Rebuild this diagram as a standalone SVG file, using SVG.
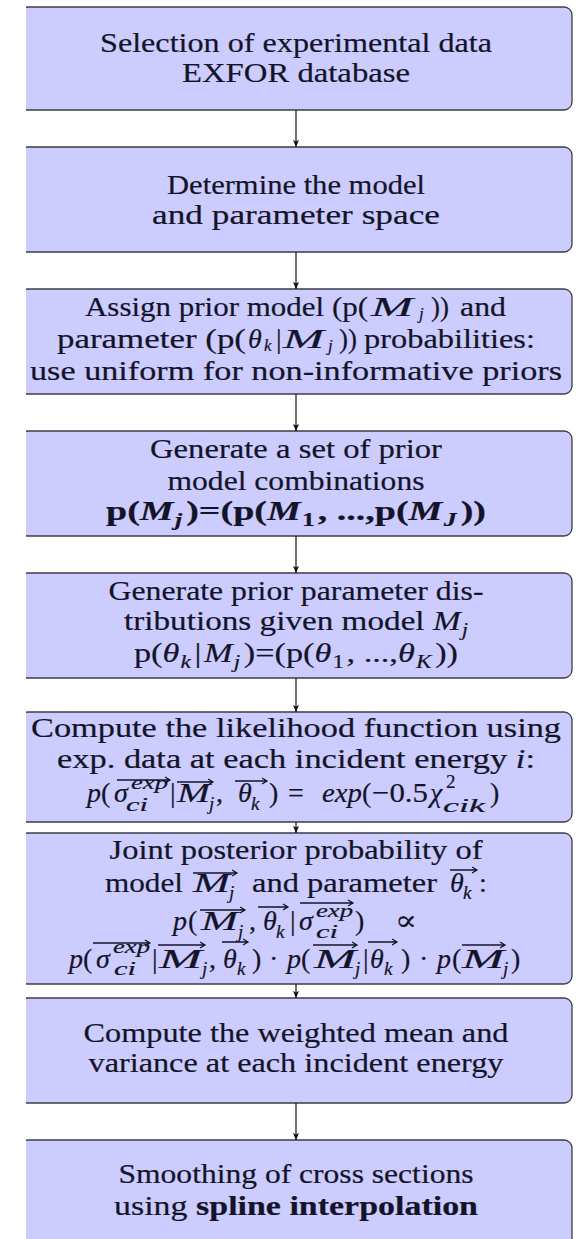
<svg xmlns="http://www.w3.org/2000/svg" width="582" height="1239" viewBox="0 0 582 1239">
<style>
.box{fill:#ccccff;stroke:#3c3c44;stroke-width:1.3}
.t{font-family:"Liberation Serif","DejaVu Serif",serif;font-size:28px;fill:#141428;stroke:#141428;stroke-width:0.2}
.i{font-style:italic}
.s{font-size:19px}
.ss{font-size:17px}
.b{font-weight:bold}
.c{text-anchor:middle}
.ov{fill:none;stroke:#141428;stroke-width:1.3}
.conn{stroke:#111;stroke-width:1.2;fill:none}
</style>
<defs>
<clipPath id="cl"><rect x="26" y="0" width="560" height="1239"/></clipPath>
<marker id="ah" markerUnits="userSpaceOnUse" markerWidth="8" markerHeight="8" refX="7" refY="4" orient="auto">
<path d="M0,1 L7,4 L0,7 L1.5,4 z" fill="#111"/>
</marker>
</defs>
<rect width="582" height="1239" fill="#ffffff"/>
<g clip-path="url(#cl)">
<g id="n1"><rect class="box" x="20" y="7" width="552" height="103" rx="8"/>
<text class="t c" x="296" y="52" textLength="392" lengthAdjust="spacingAndGlyphs">Selection of experimental data</text>
<text class="t c" x="296" y="82" textLength="228" lengthAdjust="spacingAndGlyphs">EXFOR database</text></g>

<g id="n2"><rect class="box" x="20" y="147" width="552" height="105" rx="8"/>
<text class="t c" x="296" y="194" textLength="258" lengthAdjust="spacingAndGlyphs">Determine the model</text>
<text class="t c" x="296" y="224" textLength="288" lengthAdjust="spacingAndGlyphs">and parameter space</text></g>

<g id="n3"><rect class="box" x="20" y="289" width="552" height="105" rx="8"/>
<text class="t" x="85" y="316" textLength="283" lengthAdjust="spacingAndGlyphs">Assign prior model (p(</text>
<text class="t i" x="371" y="316" textLength="42" lengthAdjust="spacingAndGlyphs">M</text>
<text class="t ss i" x="419" y="319">j</text>
<text class="t" x="431" y="316" textLength="18" lengthAdjust="spacingAndGlyphs">))</text>
<text class="t" x="460" y="316" textLength="46" lengthAdjust="spacingAndGlyphs">and</text>
<text class="t" x="57" y="348" textLength="189" lengthAdjust="spacingAndGlyphs">parameter (p(</text>
<text class="t i" x="248" y="348">θ</text>
<text class="t ss i" x="264" y="351">k</text>
<text class="t" x="276" y="348">|</text>
<text class="t i" x="283" y="348" textLength="41" lengthAdjust="spacingAndGlyphs">M</text>
<text class="t ss i" x="328" y="351">j</text>
<text class="t" x="339" y="348" textLength="18" lengthAdjust="spacingAndGlyphs">))</text>
<text class="t" x="364" y="348" textLength="171" lengthAdjust="spacingAndGlyphs">probabilities:</text>
<text class="t c" x="296" y="380" textLength="532" lengthAdjust="spacingAndGlyphs">use uniform for non-informative priors</text></g>

<g id="n4"><rect class="box" x="20" y="431" width="552" height="105" rx="8"/>
<text class="t c" x="296" y="458" textLength="292" lengthAdjust="spacingAndGlyphs">Generate a set of prior</text>
<text class="t c" x="296" y="490" textLength="257" lengthAdjust="spacingAndGlyphs">model combinations</text>
<text class="t c b" x="296" y="520" textLength="380" lengthAdjust="spacingAndGlyphs">p(<tspan class="i">M</tspan><tspan class="s i" dx="1" dy="6">j</tspan><tspan dx="3" dy="-6">)=(p(</tspan><tspan class="i">M</tspan><tspan class="s" dx="1" dy="6">1</tspan><tspan dx="2" dy="-6">, ...,p(</tspan><tspan class="i">M</tspan><tspan class="s i" dx="1" dy="6">J</tspan><tspan dx="3" dy="-6">))</tspan></text></g>

<g id="n5"><rect class="box" x="20" y="573" width="552" height="105" rx="8"/>
<text class="t c" x="296" y="600" textLength="375" lengthAdjust="spacingAndGlyphs">Generate prior parameter dis-</text>
<text class="t c" x="296" y="630" textLength="344" lengthAdjust="spacingAndGlyphs">tributions given model <tspan class="i">M</tspan><tspan class="s i" dx="1" dy="6">j</tspan></text>
<text class="t c" x="296" y="662" textLength="324" lengthAdjust="spacingAndGlyphs">p(<tspan class="i">θ</tspan><tspan class="s i" dx="1" dy="6">k</tspan><tspan dx="3" dy="-6">|</tspan><tspan class="i" dx="2">M</tspan><tspan class="s i" dx="1" dy="6">j</tspan><tspan dx="3" dy="-6">)=(p(</tspan><tspan class="i">θ</tspan><tspan class="s" dx="1" dy="6">1</tspan><tspan dx="2" dy="-6">, ...,</tspan><tspan class="i">θ</tspan><tspan class="s i" dx="1" dy="6">K</tspan><tspan dx="3" dy="-6">))</tspan></text></g>

<g id="n6"><rect class="box" x="20" y="712" width="552" height="110" rx="8"/>
<text class="t c" x="296" y="737" textLength="530" lengthAdjust="spacingAndGlyphs">Compute the likelihood function using</text>
<text class="t c" x="296" y="768" textLength="478" lengthAdjust="spacingAndGlyphs">exp. data at each incident energy <tspan class="i">i</tspan>:</text>
<text class="t i" x="87" y="802">p</text>
<text class="t" x="101" y="802">(</text>
<text class="t i" x="114" y="802">σ</text>
<text class="t s i" x="131" y="789" textLength="37" lengthAdjust="spacingAndGlyphs">exp</text>
<text class="t s i" x="126" y="811" textLength="22" lengthAdjust="spacingAndGlyphs">ci</text>
<text class="t" x="170" y="802">|</text>
<text class="t i" x="177" y="802" textLength="33" lengthAdjust="spacingAndGlyphs">M</text>
<text class="t s i" x="209" y="810">j</text>
<text class="t" x="216" y="802">,</text>
<text class="t i" x="238" y="802">θ</text>
<text class="t s i" x="251" y="810">k</text>
<text class="t" x="269" y="802">)</text>
<text class="t" x="288" y="802">=</text>
<text class="t i" x="322" y="802" textLength="40" lengthAdjust="spacingAndGlyphs">exp</text>
<text class="t" x="362" y="802">(</text>
<text class="t" x="372" y="802" textLength="56" lengthAdjust="spacingAndGlyphs">−0.5</text>
<text class="t i" x="430" y="802">χ</text>
<text class="t s" x="446" y="788">2</text>
<text class="t s i" x="443" y="812" textLength="42" lengthAdjust="spacingAndGlyphs">cik</text>
<text class="t" x="490" y="802">)</text>
<path class="ov" d="M117,780 H170 M165,777 L170,780 L165,783 M177,782 H213 M208,779 L213,782 L208,785 M235,781 H267 M262,778 L267,781 L262,784"/></g>

<g id="n7"><rect class="box" x="20" y="833" width="552" height="151" rx="8"/>
<text class="t c" x="296" y="859" textLength="373" lengthAdjust="spacingAndGlyphs">Joint posterior probability of</text>
<text class="t" x="105" y="892" textLength="78" lengthAdjust="spacingAndGlyphs">model</text>
<text class="t i" x="193" y="892" textLength="37" lengthAdjust="spacingAndGlyphs">M</text>
<text class="t s i" x="229" y="899">j</text>
<text class="t" x="252" y="892" textLength="185" lengthAdjust="spacingAndGlyphs">and parameter</text>
<text class="t i" x="450" y="892">θ</text>
<text class="t s i" x="463" y="899">k</text>
<text class="t" x="479" y="892">:</text>
<path class="ov" d="M193,873 H237 M232,870 L237,873 L232,876 M450,870 H477 M472,867 L477,870 L472,873"/>
<text class="t i" x="173" y="930">p</text>
<text class="t" x="188" y="930">(</text>
<text class="t i" x="201" y="930" textLength="37" lengthAdjust="spacingAndGlyphs">M</text>
<text class="t s i" x="238" y="938">j</text>
<text class="t" x="249" y="930">,</text>
<text class="t i" x="263" y="930">θ</text>
<text class="t s i" x="276" y="938">k</text>
<text class="t" x="290" y="930">|</text>
<text class="t i" x="299" y="930">σ</text>
<text class="t s i" x="316" y="917" textLength="37" lengthAdjust="spacingAndGlyphs">exp</text>
<text class="t s i" x="316" y="938" textLength="22" lengthAdjust="spacingAndGlyphs">ci</text>
<text class="t" x="355" y="930">)</text>
<text class="t" x="395" y="930" textLength="22" lengthAdjust="spacingAndGlyphs">∝</text>
<path class="ov" d="M200,910 H245 M240,907 L245,910 L240,913 M258,907 H288 M283,904 L288,907 L283,910 M300,903 H353 M348,900 L353,903 L348,906"/>
<text class="t i" x="69" y="968">p</text>
<text class="t" x="83" y="968">(</text>
<text class="t i" x="96" y="968">σ</text>
<text class="t s i" x="113" y="953" textLength="37" lengthAdjust="spacingAndGlyphs">exp</text>
<text class="t s i" x="114" y="975" textLength="22" lengthAdjust="spacingAndGlyphs">ci</text>
<text class="t" x="152" y="968">|</text>
<text class="t i" x="159" y="968" textLength="43" lengthAdjust="spacingAndGlyphs">M</text>
<text class="t s i" x="202" y="975">j</text>
<text class="t" x="209" y="968">,</text>
<text class="t i" x="223" y="968">θ</text>
<text class="t s i" x="237" y="975">k</text>
<text class="t" x="252" y="968">)</text>
<text class="t" x="269" y="968">·</text>
<text class="t i" x="287" y="968">p</text>
<text class="t" x="301" y="968">(</text>
<text class="t i" x="314" y="968" textLength="42" lengthAdjust="spacingAndGlyphs">M</text>
<text class="t s i" x="355" y="975">j</text>
<text class="t" x="363" y="968">|</text>
<text class="t i" x="370" y="968">θ</text>
<text class="t s i" x="384" y="975">k</text>
<text class="t" x="401" y="968">)</text>
<text class="t" x="419" y="968">·</text>
<text class="t i" x="437" y="968">p</text>
<text class="t" x="452" y="968">(</text>
<text class="t i" x="462" y="968" textLength="42" lengthAdjust="spacingAndGlyphs">M</text>
<text class="t s i" x="503" y="975">j</text>
<text class="t" x="511" y="968">)</text>
<path class="ov" d="M93,943 H150 M145,940 L150,943 L145,946 M158,945 H205 M200,942 L205,945 L200,948 M222,942 H248 M243,939 L248,942 L243,945 M313,945 H357 M352,942 L357,945 L352,948 M368,942 H397 M392,939 L397,942 L392,945 M462,945 H505 M500,942 L505,945 L500,948"/></g>

<g id="n8"><rect class="box" x="20" y="998" width="552" height="105" rx="8"/>
<text class="t c" x="296" y="1042" textLength="425" lengthAdjust="spacingAndGlyphs">Compute the weighted mean and</text>
<text class="t c" x="296" y="1072" textLength="415" lengthAdjust="spacingAndGlyphs">variance at each incident energy</text></g>

<g id="n9"><rect class="box" x="20" y="1140" width="552" height="115" rx="8"/>
<text class="t c" x="296" y="1183" textLength="355" lengthAdjust="spacingAndGlyphs">Smoothing of cross sections</text>
<text class="t c" x="296" y="1215" textLength="364" lengthAdjust="spacingAndGlyphs">using <tspan class="b">spline interpolation</tspan></text></g>
</g>

<g id="connectors">
<line class="conn" x1="296" y1="110" x2="296" y2="147" marker-end="url(#ah)"/>
<line class="conn" x1="296" y1="252" x2="296" y2="289" marker-end="url(#ah)"/>
<line class="conn" x1="296" y1="394" x2="296" y2="431" marker-end="url(#ah)"/>
<line class="conn" x1="296" y1="536" x2="296" y2="573" marker-end="url(#ah)"/>
<line class="conn" x1="296" y1="678" x2="296" y2="712" marker-end="url(#ah)"/>
<line class="conn" x1="296" y1="822" x2="296" y2="833" marker-end="url(#ah)"/>
<line class="conn" x1="296" y1="984" x2="296" y2="998" marker-end="url(#ah)"/>
<line class="conn" x1="296" y1="1103" x2="296" y2="1140" marker-end="url(#ah)"/>
</g>
</svg>
